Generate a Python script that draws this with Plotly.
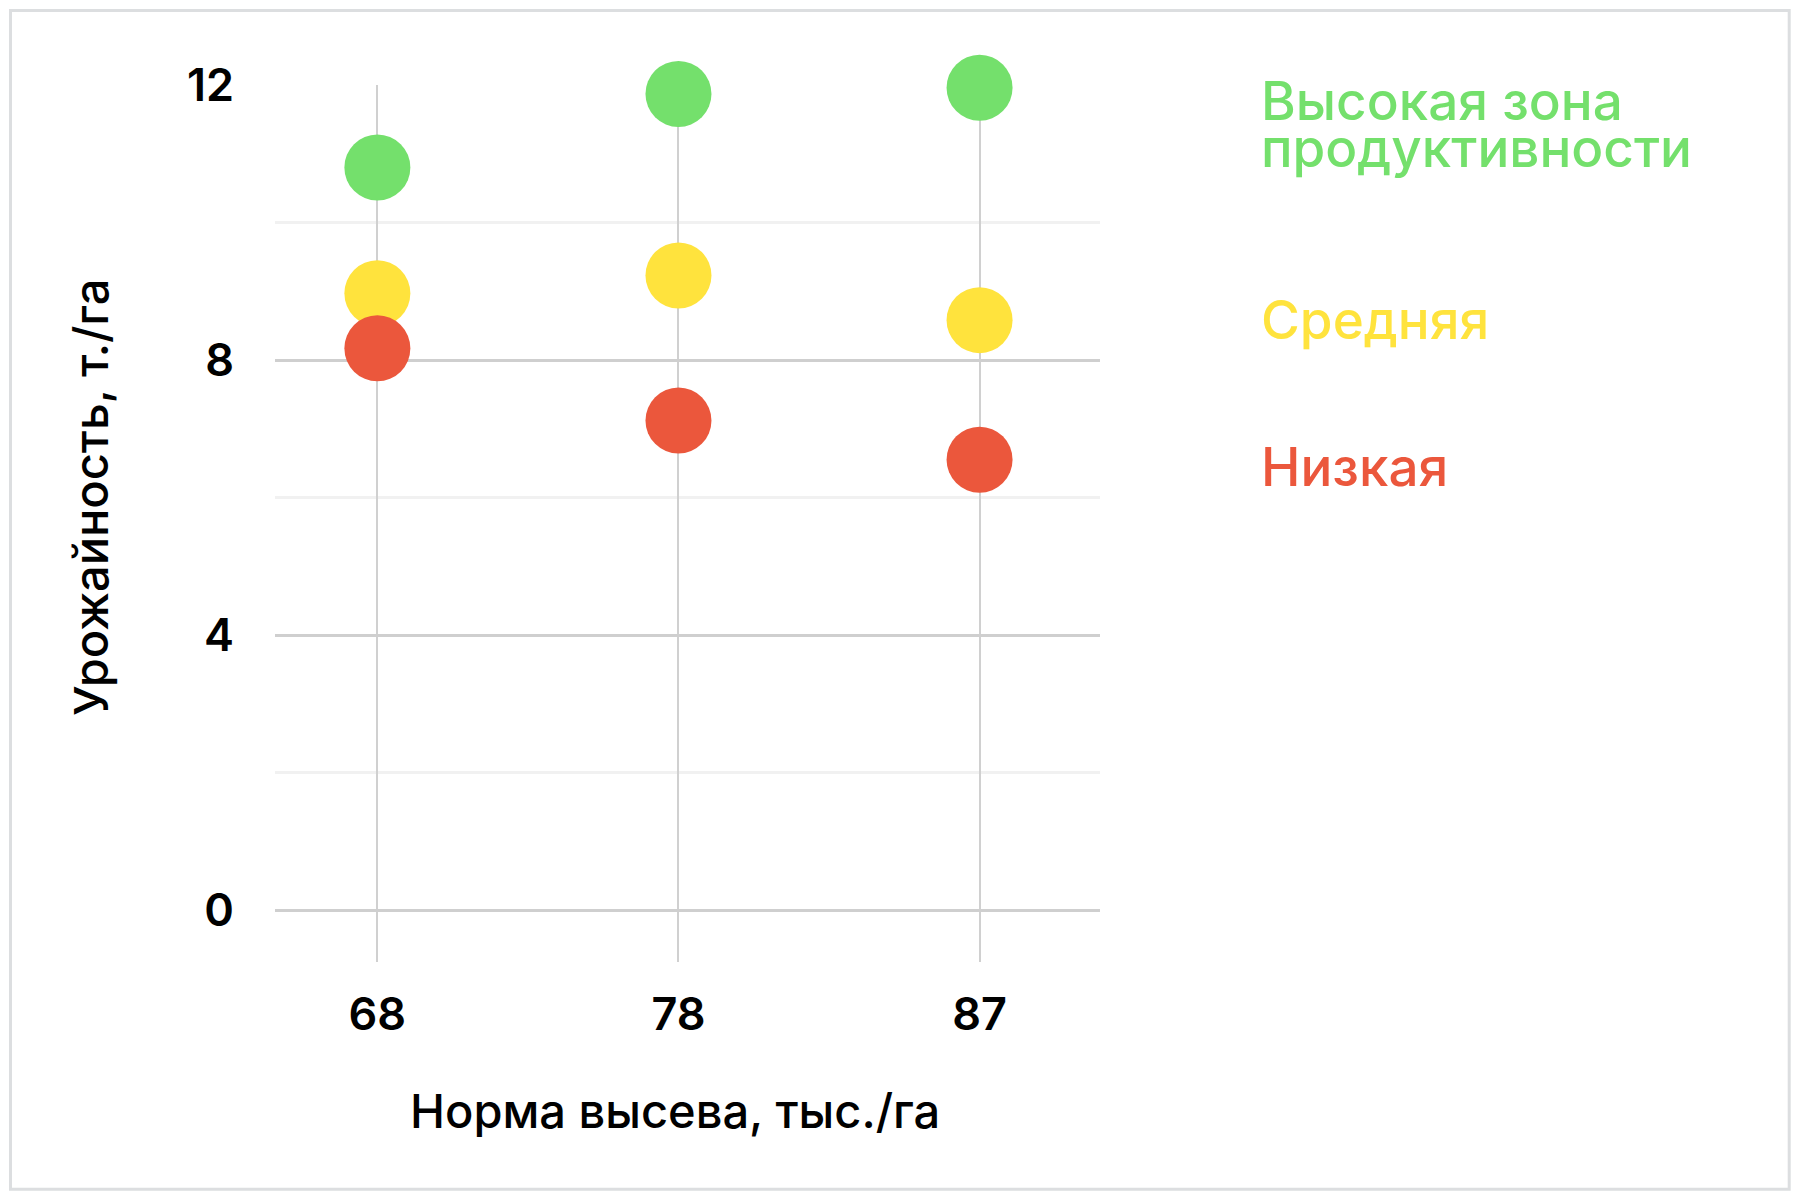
import plotly.graph_objects as go

categories = ["68", "78", "87"]
high = [10.8, 11.87, 11.96]
medium = [8.97, 9.23, 8.58]
low = [8.17, 7.12, 6.55]
series_names = ["Высокая зона продуктивности", "Средняя", "Низкая"]
y_ticks = [0, 4, 8, 12]
y_minor = [2, 6, 10]
x_title = "Норма высева, тыс./га"
y_title = "Урожайность, т./га"

GREEN = "#74e06c"
YELLOW = "#ffe33d"
RED = "#eb573c"
FONT = "Inter"

W, H = 1800, 1201
L, R, T, B = 275, 1100, 85, 962
PW, PH = R - L, B - T

def px(x):
    return (x - L) / PW

def py(y):
    return (B - y) / PH

fig = go.Figure()
for vals, col, name in [(high, GREEN, series_names[0]), (medium, YELLOW, series_names[1]), (low, RED, series_names[2])]:
    fig.add_trace(go.Scatter(x=categories, y=vals, mode="markers", name=name,
                             marker=dict(size=66, color=col, line=dict(width=0)),
                             cliponaxis=False, showlegend=False))

fig.update_layout(
    width=W, height=H,
    margin=dict(l=L, r=W - R, t=T, b=H - B, pad=0),
    paper_bgcolor="white", plot_bgcolor="white",
    font=dict(family=FONT, color="black"),
    xaxis=dict(type="category", range=[-0.34, 2.4], showgrid=True, gridcolor="#d0d0d0", gridwidth=2,
               zeroline=False, showline=False, ticks="", ticklabelstandoff=22,
               tickfont=dict(size=45, family=FONT, weight=600, color="black")),
    yaxis=dict(range=[-0.756, 12], tickvals=y_ticks, showgrid=True, gridcolor="#cfcfcf", gridwidth=2.5,
               zeroline=False, showline=False, ticks="", ticklabelstandoff=40,
               tickfont=dict(size=45, family=FONT, weight=600, color="black"),
               minor=dict(tickvals=y_minor, showgrid=True, gridcolor="#f1f1f1", gridwidth=2.5)),
)

anns = [
    dict(text="Высокая зона", x=px(1259), y=py(101), color=GREEN),
    dict(text="продуктивности", x=px(1259), y=py(148), color=GREEN),
    dict(text=series_names[1], x=px(1259), y=py(320), color=YELLOW),
    dict(text=series_names[2], x=px(1259), y=py(467), color=RED),
]
for a in anns:
    fig.add_annotation(text=a["text"], x=a["x"], y=a["y"], xref="paper", yref="paper",
                       xanchor="left", yanchor="middle", showarrow=False,
                       font=dict(size=53, family=FONT, weight=500, color=a["color"]))

fig.add_annotation(text=x_title, x=px(675), y=py(1110), xref="paper", yref="paper",
                   xanchor="center", yanchor="middle", showarrow=False,
                   font=dict(size=47, family=FONT, weight=500, color="black"))
fig.add_annotation(text=y_title, x=px(90), y=py(497), xref="paper", yref="paper",
                   xanchor="center", yanchor="middle", showarrow=False, textangle=-90,
                   font=dict(size=47, family=FONT, weight=500, color="black"))

fig.add_shape(type="rect", xref="paper", yref="paper",
              x0=px(10.5), x1=px(1789.2), y0=py(1189.2), y1=py(10.5),
              line=dict(color="#dcdee0", width=3), fillcolor="rgba(0,0,0,0)", layer="below")

fig.write_html("out.html")
